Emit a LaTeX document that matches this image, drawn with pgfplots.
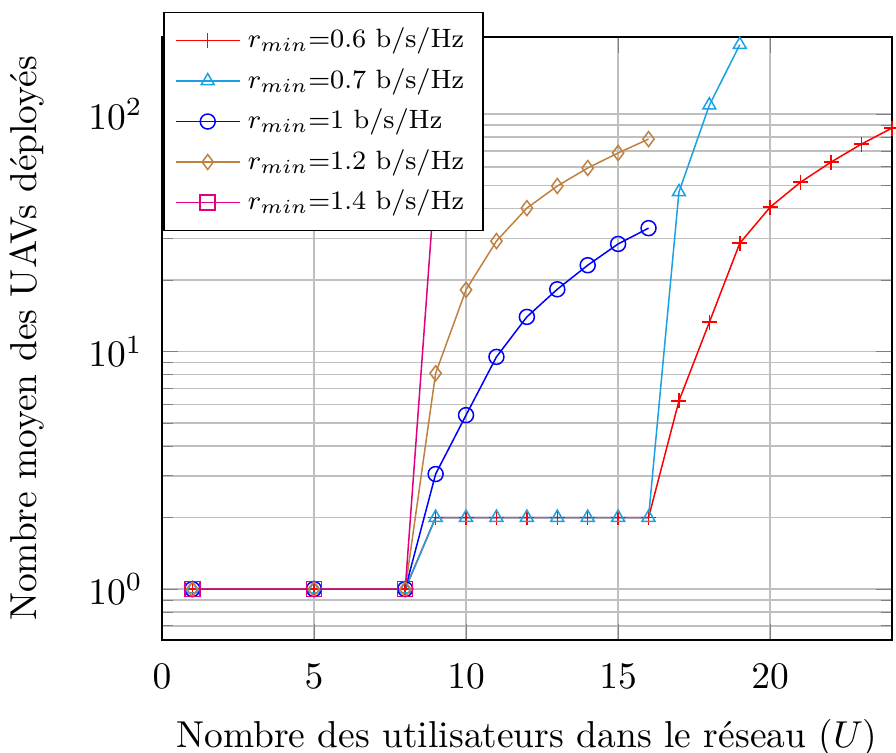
\documentclass[border=0pt]{standalone}
\usepackage{graphicx}
\usepackage{pgfplots}
\pgfplotsset{compat=1.18}
\definecolor{cTri}{RGB}{27,161,226}
\definecolor{cSq}{RGB}{224,0,128}
% slightly reduced legend text
\newcommand\legtext[1]{\scalebox{0.885}{#1}}
\begin{document}
\begin{tikzpicture}
\begin{axis}[
  scale only axis,
  width=194.8pt, height=160.9pt,
  ymode=log,
  xmin=0, xmax=24,
  ymin=0.61, ymax=211,
  xtick={0,5,10,15,20},
  grid=both,
  xminorgrids=false,
  xticklabel shift=3pt,
  yticklabel shift=1.6pt,
  xlabel shift=1.4pt,
  ylabel shift=5pt,
  xlabel={Nombre des utilisateurs dans le réseau ($U$)},
  ylabel={Nombre moyen des UAVs déployés},
  legend cell align=left,
  legend style={at={(axis description cs:0,1)}, anchor=north west,
    xshift=0.3pt, yshift=6.7pt, font=\footnotesize, fill=white, draw=black},
]
\addplot[red, mark=+] coordinates {
(1,1) (5,1) (8,1) (9,2) (10,2) (11,2) (12,2) (13,2) (14,2) (15,2) (16,2)
(17,6.2) (18,13.3) (19,28.6) (20,40.6) (21,51.7) (22,62.8) (23,74.8) (24,87.3)};
\addlegendentry{\legtext{$r_{min}$=0.6 b/s/Hz}}
\addplot[cTri, mark=triangle] coordinates {
(1,1) (5,1) (8,1) (9,2) (10,2) (11,2) (12,2) (13,2) (14,2) (15,2) (16,2)
(17,47) (18,109) (19,196)};
\addlegendentry{\legtext{$r_{min}$=0.7 b/s/Hz}}
\addplot[blue, mark=o] coordinates {
(1,1) (5,1) (8,1) (9,3.05) (10,5.4) (11,9.5) (12,14) (13,18.3) (14,23.1) (15,28.4) (16,33.1)};
\addlegendentry{\legtext{$r_{min}$=1 b/s/Hz}}
\addplot[brown, mark=diamond] coordinates {
(1,1) (5,1) (8,1) (9,8.1) (10,18.2) (11,29.2) (12,40.2) (13,49.8) (14,59.3) (15,68.6) (16,78.5)};
\addlegendentry{\legtext{$r_{min}$=1.2 b/s/Hz}}
\addplot[cSq, mark=square] coordinates {
(1,1) (5,1) (8,1) (9,56)};
\addlegendentry{\legtext{$r_{min}$=1.4 b/s/Hz}}
\end{axis}
% page frame around the axis
\pgfresetboundingbox
\path[use as bounding box]
  ([xshift=-43.2pt,yshift=-29.9pt]current axis.south west)
  rectangle ([xshift=1.1pt,yshift=9.9pt]current axis.north east);
\end{tikzpicture}
\end{document}
